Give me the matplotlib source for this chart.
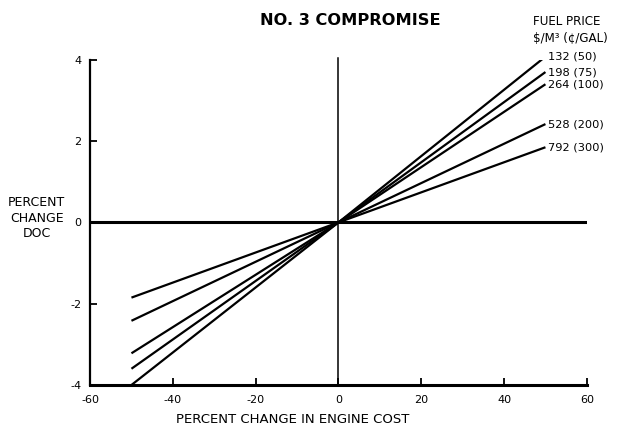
import matplotlib
matplotlib.use("Agg")
import matplotlib.pyplot as plt

# fuel price labels ($/m3 and cents/gal)
fuel_labels = ["132 (50)", "198 (75)", "264 (100)", "528 (200)", "792 (300)"]
# percent change in engine cost
x_cost = [-50, 0, 50]
# percent change DOC at each x_cost point, one list per fuel price
doc_132 = [-4.0, 0.0, 4.08]
doc_198 = [-3.6, 0.0, 3.7]
doc_264 = [-3.22, 0.0, 3.4]
doc_528 = [-2.42, 0.0, 2.42]
doc_792 = [-1.85, 0.0, 1.85]
series = [doc_132, doc_198, doc_264, doc_528, doc_792]

xticks = [-60, -40, -20, 0, 20, 40, 60]
yticks = [-4, -2, 0, 2, 4]

plt.rcParams['font.family'] = ['DejaVu Sans']

fig = plt.figure(figsize=(6.21, 4.37), dpi=100)
ax = fig.add_axes([0.145, 0.119, 0.800, 0.744])

# curves
for vals, lab in zip(series, fuel_labels):
    ax.plot(x_cost, vals, color='black', linewidth=1.6, solid_capstyle='butt')
    ax.text(x_cost[-1] + 0.6, vals[-1], lab, fontsize=8.2,
            ha='left', va='center', clip_on=False)

# reference lines
ax.axhline(0, color='black', linewidth=2.2)
ax.plot([0, 0], [-4, 4.05], color='black', linewidth=1.1, clip_on=False)

ax.set_xlim(-60, 60)
ax.set_ylim(-4, 4)
ax.set_xticks(xticks)
ax.set_yticks(yticks)
ax.set_xticklabels([str(v) for v in xticks])
ax.set_yticklabels([str(v) for v in yticks])
ax.tick_params(axis='both', direction='in', length=5, width=1.3,
               labelsize=8, colors='black')
ax.tick_params(axis='x', pad=7)
ax.tick_params(axis='y', pad=6)

for side in ['top', 'right']:
    ax.spines[side].set_visible(False)
ax.spines['left'].set_linewidth(1.6)
ax.spines['bottom'].set_linewidth(2.2)

# texts
fig.text(0.564, 0.954, "NO. 3 COMPROMISE", fontsize=11.7, fontweight='bold',
         ha='center', va='center')
fig.text(0.858, 0.950, "FUEL PRICE", fontsize=8.6, ha='left', va='center')
fig.text(0.858, 0.913, "$/M³ (¢/GAL)", fontsize=8.6, ha='left', va='center')
fig.text(0.059, 0.501, "PERCENT\nCHANGE\nDOC", fontsize=9, ha='center',
         va='center', linespacing=1.25)
fig.text(0.472, 0.039, "PERCENT CHANGE IN ENGINE COST", fontsize=9.5,
         ha='center', va='center')

fig.savefig("out.png", dpi=100, facecolor='white')
